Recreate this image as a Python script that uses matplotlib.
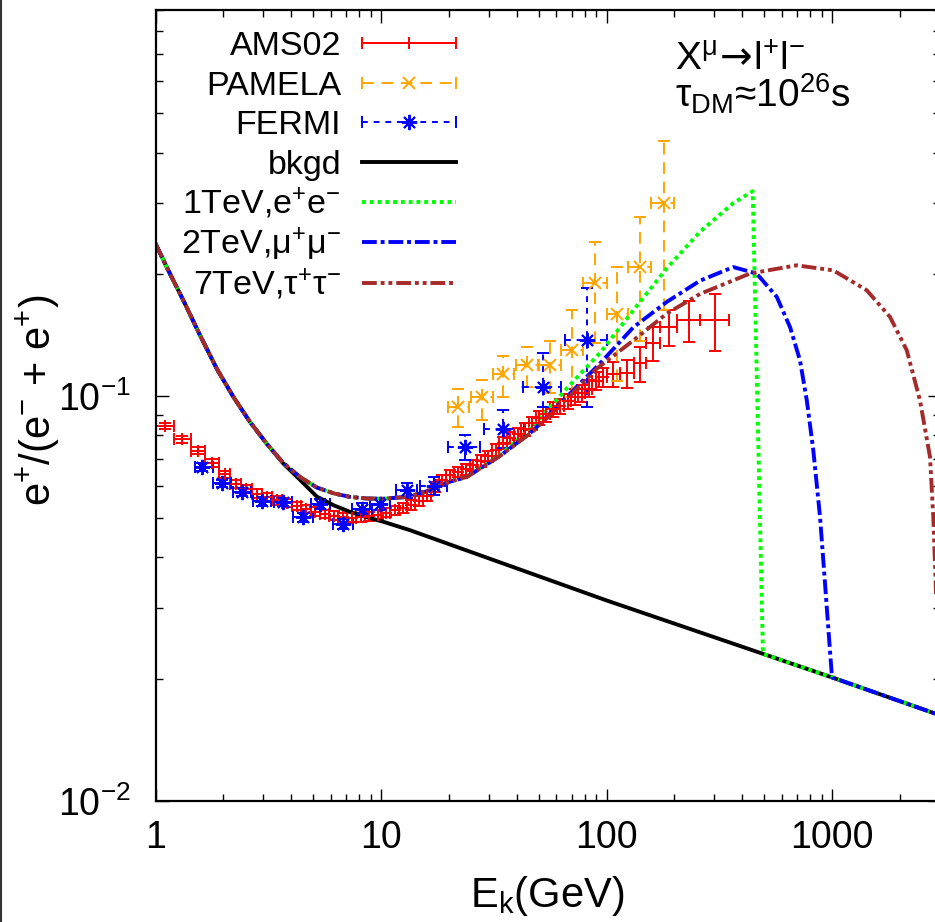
import numpy as np
import matplotlib
matplotlib.use("Agg")
import matplotlib.pyplot as plt
from matplotlib import font_manager as fm
from matplotlib.lines import Line2D
from matplotlib.ticker import FixedLocator, LogLocator, FuncFormatter, NullFormatter

# ---------------- data ----------------
# background (black)
bkgd_E = [1.0, 1.121, 1.328, 1.575, 1.868, 2.215, 2.624, 3.11, 3.686, 4.37, 5.19, 6.2, 7.29, 8.6, 10.2, 13.4,
          100.0, 1000.0, 3000.0]
bkgd_y = [0.2384, 0.2085, 0.1726, 0.1415, 0.117, 0.0996, 0.0864, 0.0764, 0.0682, 0.0622, 0.0565, 0.0537,
          0.0518, 0.0503, 0.0490, 0.0467, 0.0313, 0.0202, 0.0163]

# 1 TeV, e+e-
ee_E = [1.0, 1.121, 1.328, 1.575, 1.868, 2.215, 2.624, 3.11, 3.686, 4.37, 5.19, 6.2, 7.29, 8.63, 10.2, 13.0,
        15.4, 20.2, 24.0, 33.7, 47.4, 66.6, 93.6, 131.5, 185, 260, 365, 445, 494, 1000, 3000]
ee_y = [0.2384, 0.2085, 0.1726, 0.1415, 0.117, 0.0996, 0.0864, 0.0764, 0.0684, 0.0632, 0.0595, 0.0575,
        0.0564, 0.0559, 0.0558, 0.0564, 0.0578, 0.0615, 0.0632, 0.0715, 0.0845, 0.1045, 0.128, 0.163,
        0.207, 0.255, 0.300, 0.321, 0.0231, 0.0202, 0.0163]

# 2 TeV, mu+mu-
mm_E = [1.0, 1.121, 1.328, 1.575, 1.868, 2.215, 2.624, 3.11, 3.686, 4.37, 5.19, 6.2, 7.29, 8.63, 10.2, 13.0,
        15.4, 20.2, 24.0, 33.7, 47.4, 66.6, 93.6, 131.5, 185, 260, 365, 463, 569, 652, 721, 773, 826, 885,
        931, 979, 1000, 3000]
mm_y = [0.2384, 0.2085, 0.1726, 0.1415, 0.117, 0.0996, 0.0864, 0.0764, 0.0684, 0.0632, 0.0595, 0.0575,
        0.0564, 0.0559, 0.0558, 0.0564, 0.0578, 0.0615, 0.0632, 0.0712, 0.0824, 0.0996, 0.1205, 0.148,
        0.171, 0.193, 0.2085, 0.201, 0.176, 0.148, 0.1227, 0.0977, 0.0736, 0.0503, 0.0345, 0.0236, 0.0202,
        0.0163]

# 7 TeV, tau+tau-
tt_E = [1.0, 1.121, 1.328, 1.575, 1.868, 2.215, 2.624, 3.11, 3.686, 4.37, 5.19, 6.2, 7.29, 8.63, 10.2, 13.0,
        15.4, 20.2, 24.0, 33.7, 47.4, 66.6, 90.6, 131.5, 185, 260, 433, 697, 1014, 1425, 1808, 2144, 2455,
        2720, 2813, 2880, 3000]
tt_y = [0.2384, 0.2085, 0.1726, 0.1415, 0.117, 0.0996, 0.0864, 0.0764, 0.0684, 0.0632, 0.0595, 0.0575,
        0.0564, 0.0559, 0.0558, 0.0564, 0.0578, 0.0615, 0.0632, 0.0712, 0.0820, 0.0985, 0.117, 0.1374,
        0.160, 0.179, 0.201, 0.2106, 0.2046, 0.1828, 0.157, 0.130, 0.0977, 0.0708, 0.0503, 0.035, 0.0163]

# AMS02 positron fraction (bin edges, values, errors)
ams_edges = [1.00, 1.21, 1.43, 1.66, 1.92, 2.15, 2.40, 2.67, 2.97, 3.29, 3.64, 4.02, 4.43, 4.88, 5.37,
             5.90, 6.47, 7.09, 7.76, 8.48, 9.26, 10.1, 11.0, 12.0, 13.0, 14.1, 15.3, 16.6, 18.0, 19.5,
             21.1, 22.8, 24.7, 26.7, 28.8, 31.1, 33.5, 36.1, 38.9, 41.9, 45.1, 48.5, 52.2, 56.1, 60.3,
             64.8, 69.7, 74.9, 80.5, 86.5, 93.0, 100, 115, 132, 149, 173, 206, 260, 350]
ams_y = [0.0843, 0.0782, 0.0733, 0.0684, 0.0641, 0.0608, 0.0590, 0.0575, 0.0563, 0.0553,
         0.0545, 0.0536, 0.0527, 0.0519, 0.0512, 0.0507, 0.0503, 0.0501, 0.0502, 0.0505,
         0.0510, 0.0516, 0.0523, 0.0531, 0.0540, 0.0552, 0.0568, 0.0598, 0.0622, 0.0638,
         0.0650, 0.0660, 0.0675, 0.0692, 0.0710, 0.0738, 0.0765, 0.0790, 0.0808, 0.0828,
         0.0857, 0.0885, 0.0902, 0.0928, 0.0945, 0.0972, 0.0995, 0.1016, 0.1045, 0.1090,
         0.1115, 0.1135, 0.1140, 0.1205, 0.1350, 0.1480, 0.1540, 0.1540]
ams_err = [0.0015, 0.0015, 0.0015, 0.0015, 0.0014, 0.0014, 0.0014, 0.0014, 0.0013, 0.0013,
           0.0013, 0.0013, 0.0013, 0.0013, 0.0013, 0.0013, 0.0013, 0.0013, 0.0013, 0.0013,
           0.0014, 0.0014, 0.0014, 0.0015, 0.0015, 0.0016, 0.0016, 0.0017, 0.0018, 0.0019,
           0.0020, 0.0021, 0.0022, 0.0023, 0.0024, 0.0025, 0.0026, 0.0027, 0.0028, 0.0030,
           0.0032, 0.0034, 0.0036, 0.0038, 0.0040, 0.0042, 0.0045, 0.0048, 0.0052, 0.0056,
           0.0060, 0.0080, 0.0090, 0.0120, 0.0130, 0.0150, 0.0180, 0.0250]

# PAMELA
pam_E = [22.0, 28.0, 34.9, 44.2, 56.1, 70.1, 88.9, 111, 141, 179]
pam_Elo = [19.8, 25.0, 31.5, 39.5, 50.0, 63.0, 79.0, 100, 125, 158]
pam_Ehi = [24.6, 31.5, 38.8, 49.5, 63.0, 78.5, 100, 125, 158, 200]
pam_y = [0.0941, 0.0996, 0.1138, 0.1192, 0.1192, 0.130, 0.190, 0.160, 0.209, 0.300]
pam_ylo = [0.0840, 0.0873, 0.0996, 0.1054, 0.1016, 0.0996, 0.135, 0.109, 0.137, 0.163]
pam_yhi = [0.1045, 0.1095, 0.1260, 0.1320, 0.1370, 0.1630, 0.240, 0.209, 0.278, 0.428]

# FERMI
fer_E = [1.60, 1.97, 2.41, 2.96, 3.68, 4.49, 5.36, 6.75, 8.2, 9.9, 13.0, 17.1, 23.6, 34.9, 52.3, 81.7]
fer_Elo = [1.50, 1.79, 2.20, 2.70, 3.35, 4.08, 4.90, 6.10, 7.4, 8.9, 11.7, 14.9, 19.8, 28.5, 42.5, 65.5]
fer_Ehi = [1.80, 2.17, 2.65, 3.25, 4.05, 5.00, 5.95, 7.50, 9.1, 11.0, 14.5, 19.6, 27.4, 43.0, 63.0, 100]
fer_y = [0.0669, 0.0609, 0.0581, 0.0550, 0.0548, 0.0503, 0.0543, 0.0484, 0.0528, 0.0543, 0.0586, 0.0600,
         0.0750, 0.0832, 0.1054, 0.1374]
fer_ylo = [0.0655, 0.0596, 0.0568, 0.0537, 0.0535, 0.0490, 0.0528, 0.0470, 0.0512, 0.0525, 0.0562, 0.0570,
           0.0695, 0.0743, 0.0940, 0.0940]
fer_yhi = [0.0683, 0.0622, 0.0594, 0.0563, 0.0561, 0.0516, 0.0558, 0.0498, 0.0544, 0.0561, 0.0610, 0.0630,
           0.0800, 0.0924, 0.1277, 0.1850]

legend_labels = ["AMS02", "PAMELA", "FERMI", "bkgd",
                 r"1TeV,e$^{+}$e$^{-}$",
                 r"2TeV,μ$^{+}$μ$^{-}$",
                 r"7TeV,τ$^{+}$τ$^{-}$"]
x_ticks = [1, 10, 100, 1000]

# ---------------- fonts ----------------
names = {f.name for f in fm.fontManager.ttflist}
NARROW = "Liberation Sans Narrow" if "Liberation Sans Narrow" in names else "Liberation Sans"
REG = "Liberation Sans"
plt.rcParams["font.family"] = [NARROW, "DejaVu Sans"]
plt.rcParams["mathtext.fontset"] = "dejavusans"
plt.rcParams["mathtext.default"] = "regular"

W, H = 935, 922
fig = plt.figure(figsize=(W / 100, H / 100), dpi=100)
ax = fig.add_axes([155.5 / W, 121 / H, 784.1 / W, 791 / H])
ax.set_xscale("log")
ax.set_yscale("log")

RED, ORANGE, BLUE, GREEN, BROWN = "#ff0000", "#ffa500", "#0000ff", "#00ff00", "#a52a2a"
ASTER = (8, 2, 0)


def err_plot(E, Elo, Ehi, y, ylo, yhi, color, marker, ms, dash):
    E = np.asarray(E, float); y = np.asarray(y, float)
    xerr = [E - np.asarray(Elo, float), np.asarray(Ehi, float) - E]
    yerr = [y - np.asarray(ylo, float), np.asarray(yhi, float) - y]
    eb = ax.errorbar(E, y, xerr=xerr, yerr=yerr, fmt="", ls="none", marker=marker, color=color,
                     ms=ms, mew=1.4, elinewidth=1.4, capsize=4.5, capthick=1.4)
    for lc in eb[2]:
        lc.set_linestyle(dash)
    return eb


# AMS02
edges = np.asarray(ams_edges)
ams_E = np.sqrt(edges[:-1] * edges[1:])
ams_yv = np.asarray(ams_y)
ams_ev = np.asarray(ams_err)
err_plot(ams_E, edges[:-1], edges[1:], ams_yv, ams_yv - ams_ev, ams_yv + ams_ev, RED, "+", 9, "solid")
err_plot(pam_E, pam_Elo, pam_Ehi, pam_y, pam_ylo, pam_yhi, ORANGE, "x", 9, (0, (6, 4)))
err_plot(fer_E, fer_Elo, fer_Ehi, fer_y, fer_ylo, fer_yhi, BLUE, ASTER, 11, (0, (3, 3)))

LW = 2.8
ax.plot(bkgd_E, bkgd_y, color="black", lw=LW)
ax.plot(ee_E, ee_y, color=GREEN, lw=LW, ls=(0, (1, 1)))
ax.plot(mm_E, mm_y, color=BLUE, lw=LW, ls=(0, (3.8, 1, 1, 1)))
ax.plot(tt_E, tt_y, color=BROWN, lw=LW, ls=(0, (3.8, 1, 1, 1, 1, 1)))

ax.set_xlim(1, 3000)
ax.set_ylim(0.01, 0.9)

ax.xaxis.set_major_locator(FixedLocator(x_ticks))
ax.xaxis.set_major_formatter(FuncFormatter(lambda v, p: f"{v:g}"))
ax.xaxis.set_minor_locator(LogLocator(base=10, subs=range(2, 10), numticks=20))
ax.xaxis.set_minor_formatter(NullFormatter())
ax.yaxis.set_major_locator(LogLocator(base=10, numticks=10))
ax.yaxis.set_major_formatter(FuncFormatter(lambda v, p: r"$\mathregular{10^{%d}}$" % round(np.log10(v))))
ax.yaxis.set_minor_locator(LogLocator(base=10, subs=range(2, 10), numticks=20))
ax.yaxis.set_minor_formatter(NullFormatter())

ax.tick_params(which="both", direction="in", top=True, right=True, width=1.0, labelsize=27)
ax.tick_params(which="major", length=9)
ax.tick_params(which="minor", length=5)
ax.tick_params(axis="x", which="major", pad=14)
ax.tick_params(axis="y", which="major", pad=18)
for s in ax.spines.values():
    s.set_linewidth(1.6)

ax.set_xlabel(r"E$_{k}$(GeV)", fontsize=30)
ax.xaxis.set_label_coords(0.5, -0.092)
ax.set_ylabel(r"e$^{+}$/(e$^{-}$ + e$^{+}$)", fontsize=30)
ax.yaxis.set_label_coords(-0.119, 0.507)

# annotation (two lines in one text)
fig.text(675 / W, 1 - 108 / H,
         r"X$^{\mu}\!\mathrm{\rightarrow}\!$l$^{+}$l$^{-}$" + "\n" + r"τ$_{DM}$≈10$^{26}$s",
         fontsize=28, ha="left", va="baseline", linespacing=0.82, multialignment="left")

# legend (gnuplot style key)
rows_y = [43, 83, 122, 162, 202, 242, 283]
x0, x1, xt = 362, 456, 341
tf = fig.transFigure


def fl(xs, ys, **kw):
    fig.add_artist(Line2D([x / W for x in xs], [1 - y / H for y in ys], transform=tf, **kw))


for i, lab in enumerate(legend_labels):
    fig.text(xt / W, 1 - (rows_y[i] + 12) / H, lab, fontsize=24.5, family=[REG, "DejaVu Sans"],
             ha="right", va="baseline")

xm = (x0 + x1) / 2
for i, (c, mk, ms, dash) in enumerate([(RED, "+", 9, "solid"), (ORANGE, "x", 9, (0, (6, 4))),
                                       (BLUE, ASTER, 11, (0, (3, 3)))]):
    yy = rows_y[i]
    fl([x0, x1], [yy, yy], color=c, lw=1.4, ls=dash)
    fl([x0, x1], [yy, yy], color=c, ls="none", marker="|", ms=9, mew=1.4)
    fl([xm], [yy], color=c, ls="none", marker=mk, ms=ms, mew=1.4)
fl([x0, x1], [rows_y[3]] * 2, color="black", lw=LW)
fl([x0, x1], [rows_y[4]] * 2, color=GREEN, lw=LW, ls=(0, (1, 1)))
fl([x0, x1], [rows_y[5]] * 2, color=BLUE, lw=LW, ls=(0, (3.8, 1, 1, 1)))
fl([x0, x1], [rows_y[6]] * 2, color=BROWN, lw=LW, ls=(0, (3.8, 1, 1, 1, 1, 1)))

# left image border
fig.add_artist(Line2D([0.0015, 0.0015], [0, 1], transform=tf, color="#333333", lw=1.5))

fig.savefig("out.png", dpi=100)
